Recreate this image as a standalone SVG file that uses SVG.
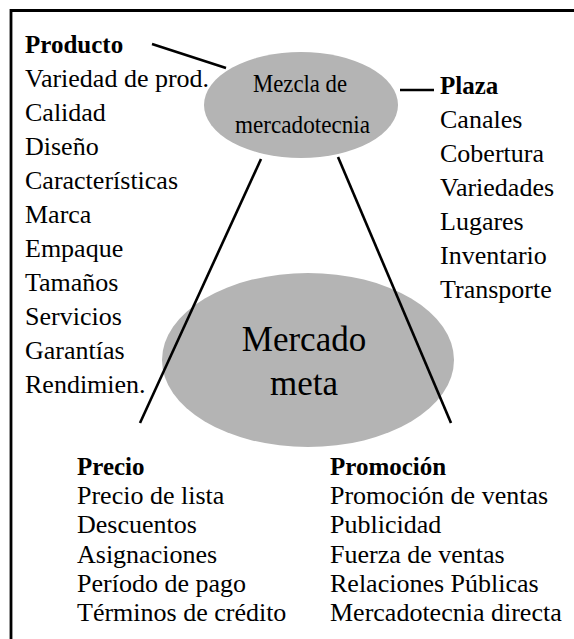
<svg xmlns="http://www.w3.org/2000/svg" width="574" height="639" viewBox="0 0 574 639">
<style>
text{font-family:'Liberation Serif','DejaVu Serif',serif;fill:#000}
.t{font-size:26px}
.b{font-size:25px;font-weight:bold}
.c{stroke:#000;stroke-width:2.6;fill:none}
.e{fill:#b4b4b4}
</style>
<rect width="574" height="639" fill="#fff"/>
<path d="M11,639 V10.5 H574" fill="none" stroke="#000" stroke-width="2.8"/>
<g id="meta">
<ellipse class="e" cx="308" cy="360" rx="146" ry="87"/>
<text x="304" y="351" font-size="35" text-anchor="middle">Mercado</text>
<text x="304" y="395" font-size="35" text-anchor="middle">meta</text>
</g>
<g id="mezcla">
<ellipse class="e" cx="301" cy="105" rx="97" ry="53"/>
<text x="253" y="92" font-size="26" textLength="94" lengthAdjust="spacingAndGlyphs">Mezcla de</text>
<text x="235" y="133" font-size="26" textLength="135" lengthAdjust="spacingAndGlyphs">mercadotecnia</text>
</g>
<g id="connectors">
<line class="c" x1="152" y1="44" x2="226" y2="68"/>
<line class="c" x1="400" y1="90" x2="434" y2="90"/>
<line class="c" x1="261" y1="159" x2="140" y2="423"/>
<line class="c" x1="338" y1="157" x2="451" y2="423"/>
</g>
<g id="producto">
<text class="b" x="25" y="53">Producto</text>
<text class="t" x="25" y="87">Variedad de prod.</text>
<text class="t" x="25" y="121">Calidad</text>
<text class="t" x="25" y="155">Diseño</text>
<text class="t" x="25" y="189">Características</text>
<text class="t" x="25" y="223">Marca</text>
<text class="t" x="25" y="257">Empaque</text>
<text class="t" x="25" y="291">Tamaños</text>
<text class="t" x="25" y="325">Servicios</text>
<text class="t" x="25" y="359">Garantías</text>
<text class="t" x="25" y="393">Rendimien.</text>
</g>
<g id="plaza">
<text class="b" x="440" y="94">Plaza</text>
<text class="t" x="440" y="128">Canales</text>
<text class="t" x="440" y="162">Cobertura</text>
<text class="t" x="440" y="196">Variedades</text>
<text class="t" x="440" y="230">Lugares</text>
<text class="t" x="440" y="264">Inventario</text>
<text class="t" x="440" y="298">Transporte</text>
</g>
<g id="precio">
<text class="b" x="77" y="475">Precio</text>
<text class="t" x="77" y="504">Precio de lista</text>
<text class="t" x="77" y="533">Descuentos</text>
<text class="t" x="77" y="563">Asignaciones</text>
<text class="t" x="77" y="592">Período de pago</text>
<text class="t" x="77" y="621">Términos de crédito</text>
</g>
<g id="promocion">
<text class="b" x="330" y="475">Promoción</text>
<text class="t" x="330" y="504">Promoción de ventas</text>
<text class="t" x="330" y="533">Publicidad</text>
<text class="t" x="330" y="563">Fuerza de ventas</text>
<text class="t" x="330" y="592">Relaciones Públicas</text>
<text class="t" x="330" y="621">Mercadotecnia directa</text>
</g>
</svg>
